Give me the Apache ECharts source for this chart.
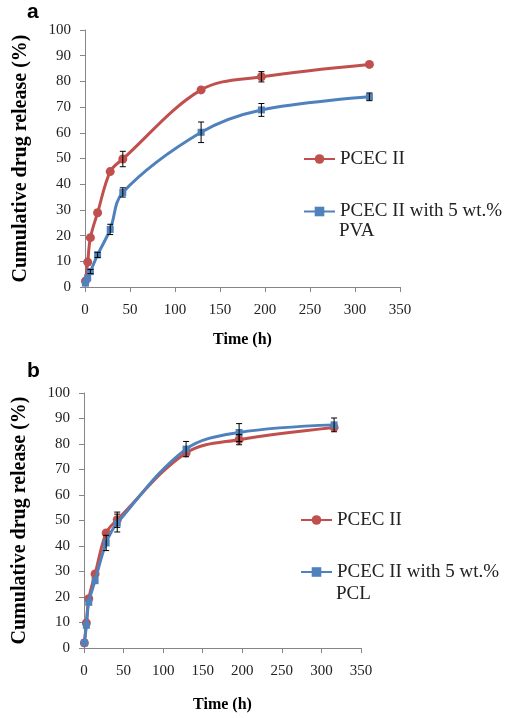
<!DOCTYPE html>
<html>
<head>
<meta charset="utf-8">
<script src="https://cdn.jsdelivr.net/npm/echarts@6/dist/echarts.min.js"></script>
<style>html,body{margin:0;padding:0;background:#fff;}#c{width:509px;height:718px;}</style>
</head>
<body>
<div id="c"></div>
<script>
// ---- data ----
const timesA = [0.5, 3, 6, 14, 28, 42, 129, 196, 316];
const pcecA = [2.3, 9.7, 19.2, 28.9, 44.9, 49.8, 76.7, 81.8, 86.6];
const pcecAErr = [0, 0, 0, 0, 0, 3, 0, 2, 0];
const pvaA = [1.5, 3.5, 6.0, 12.5, 22.4, 36.8, 60.2, 68.9, 74.0];
const pvaAErr = [0, 0, 0.8, 1, 2, 1.8, 4, 2.5, 1.5];

const timesB = [0.5, 3, 6, 14, 28, 42, 129, 196, 316];
const pcecB = [2.0, 9.8, 19.3, 29.0, 45.1, 50.3, 76.5, 81.7, 86.5];
const pcecBErr = [0, 0, 0, 0, 0, 3, 0, 2, 0];
const pclB = [2.0, 8.9, 17.9, 26.4, 41.2, 49.0, 78.0, 84.5, 87.5];
const pclBErr = [0, 0, 0, 0, 3, 3.5, 3, 3.5, 2.7];

const xTicks = [0, 50, 100, 150, 200, 250, 300, 350];
const yTicks = [0, 10, 20, 30, 40, 50, 60, 70, 80, 90, 100];

const nameRed = 'PCEC II';
const nameA = 'PCEC II with 5 wt.%';
const nameB = 'PCEC II with 5 wt.% ';
const line2A = 'PVA';
const line2B = 'PCL';

const RED = '#C0504D', BLUE = '#4F81BD';
const SERIF = 'Liberation Serif, Times New Roman, serif';

function pairs(t, v) { return t.map((x, i) => [x, v[i]]); }
function triples(t, v, e) { return t.map((x, i) => [x, v[i], e[i]]).filter(d => d[2] > 0); }

function errRender(params, api) {
  const x = api.value(0), y = api.value(1), e = api.value(2);
  const top = api.coord([x, y + e]);
  const bot = api.coord([x, y - e]);
  const cap = 3;
  const st = { stroke: '#000', lineWidth: 1 };
  return {
    type: 'group',
    children: [
      { type: 'line', shape: { x1: top[0], y1: top[1], x2: bot[0], y2: bot[1] }, style: st },
      { type: 'line', shape: { x1: top[0] - cap, y1: top[1], x2: top[0] + cap, y2: top[1] }, style: st },
      { type: 'line', shape: { x1: bot[0] - cap, y1: bot[1], x2: bot[0] + cap, y2: bot[1] }, style: st }
    ]
  };
}

function xAxisDef(gi, nameGap) {
  return {
    type: 'value', gridIndex: gi, min: 0, max: 350, interval: 50,
    name: 'Time (h)', nameLocation: 'middle', nameGap: nameGap,
    nameTextStyle: { fontFamily: SERIF, fontWeight: 'bold', fontSize: 16, color: '#000' },
    axisLine: { show: true, lineStyle: { color: '#868686', width: 1 } },
    axisTick: { show: true, inside: false, length: 5, lineStyle: { color: '#868686' } },
    axisLabel: { fontFamily: SERIF, fontSize: 15, color: '#222', margin: 16,
      formatter: v => xTicks.includes(v) ? String(v) : '' },
    splitLine: { show: false }
  };
}
function yAxisDef(gi) {
  return {
    type: 'value', gridIndex: gi, min: 0, max: 100, interval: 10,
    name: 'Cumulative drug release (%)', nameLocation: 'middle', nameGap: 54,
    nameTextStyle: { fontFamily: SERIF, fontWeight: 'bold', fontSize: 20, color: '#000' },
    axisLine: { show: true, lineStyle: { color: '#868686', width: 1 } },
    axisTick: { show: true, inside: false, length: 5, lineStyle: { color: '#868686' } },
    axisLabel: { fontFamily: SERIF, fontSize: 15, color: '#222', margin: 14,
      formatter: v => yTicks.includes(v) ? String(v) : '' },
    splitLine: { show: false }
  };
}
function lineSeries(name, data, gi, color, symbol, size, z) {
  return {
    type: 'line', name: name, xAxisIndex: gi, yAxisIndex: gi,
    data: data, smooth: 0.35, symbol: symbol, symbolSize: size,
    lineStyle: { color: color, width: 3 },
    itemStyle: { color: color },
    z: z
  };
}
function errSeries(data, gi) {
  return { type: 'custom', xAxisIndex: gi, yAxisIndex: gi, data: data,
    renderItem: errRender, z: 10, silent: true, encode: { x: 0, y: 1 } };
}
function legendDef(name, left, top) {
  return {
    data: [name], left: left, top: top, orient: 'vertical', padding: 0,
    itemWidth: 31, itemHeight: 12, itemGap: 0, selectedMode: false,
    textStyle: { fontFamily: SERIF, fontSize: 19, color: '#222' }
  };
}

const chart = echarts.init(document.getElementById('c'), null, { renderer: 'canvas' });
chart.setOption({
  animation: false,
  backgroundColor: '#fff',
  grid: [
    { left: 85, top: 30, width: 315, height: 257 },
    { left: 84, top: 393, width: 277, height: 255 }
  ],
  xAxis: [xAxisDef(0, 45), xAxisDef(1, 49)],
  yAxis: [yAxisDef(0), yAxisDef(1)],
  legend: [
    legendDef(nameRed, 303, 149.5),
    legendDef(nameA, 303, 202),
    legendDef(nameRed, 300, 510.5),
    legendDef(nameB, 300, 562.5)
  ],
  series: [
    lineSeries(nameRed, pairs(timesA, pcecA), 0, RED, 'circle', 9, 3),
    lineSeries(nameA, pairs(timesA, pvaA), 0, BLUE, 'rect', 7, 4),
    errSeries(triples(timesA, pcecA, pcecAErr), 0),
    errSeries(triples(timesA, pvaA, pvaAErr), 0),
    lineSeries(nameRed, pairs(timesB, pcecB), 1, RED, 'circle', 9, 3),
    lineSeries(nameB, pairs(timesB, pclB), 1, BLUE, 'rect', 7, 4),
    errSeries(triples(timesB, pcecB, pcecBErr), 1),
    errSeries(triples(timesB, pclB, pclBErr), 1)
  ],
  graphic: [
    { type: 'text', left: 27, top: 2, style: { text: 'a', font: 'bold 21px Liberation Sans, Arial, sans-serif', fill: '#000' } },
    { type: 'text', left: 27, top: 361, style: { text: 'b', font: 'bold 21px Liberation Sans, Arial, sans-serif', fill: '#000' } },
    { type: 'text', left: 339, top: 222, style: { text: line2A, font: '19px ' + SERIF, fill: '#222' } },
    { type: 'text', left: 336, top: 584.5, style: { text: line2B, font: '19px ' + SERIF, fill: '#222' } }
  ]
});
</script>
</body>
</html>
